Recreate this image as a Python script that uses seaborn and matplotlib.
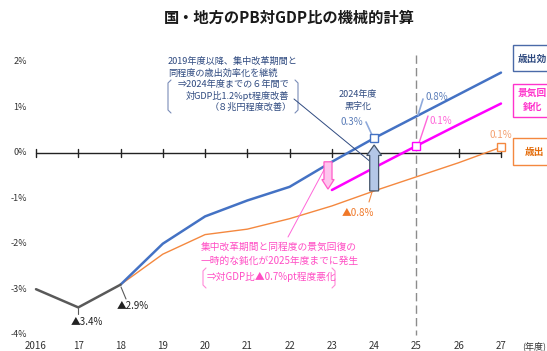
import matplotlib
matplotlib.use("Agg")
import matplotlib.pyplot as plt
import seaborn as sns
import pandas as pd
from matplotlib.patches import FancyArrow, Rectangle

# ---------------- data ----------------
years_actual = [2016, 2017, 2018]
pb_actual = [-3.0, -3.4, -2.9]

years_proj = [2018, 2019, 2020, 2021, 2022, 2023, 2024, 2025, 2026, 2027]
pb_efficiency = [-2.9, -2.0, -1.4, -1.05, -0.75, -0.2, 0.32, 0.8, 1.28, 1.76]
pb_baseline = [-2.9, -2.23, -1.8, -1.68, -1.45, -1.17, -0.84, -0.53, -0.22, 0.12]

years_slow = [2023, 2024, 2025, 2026, 2027]
pb_slowdown = [-0.82, -0.33, 0.15, 0.62, 1.08]

x_ticks = list(range(2016, 2028))
x_tick_labels = ["2016", "17", "18", "19", "20", "21", "22", "23", "24", "25", "26", "27"]
y_ticks = [2, 1, 0, -1, -2, -3, -4]
y_tick_labels = ["2%", "1%", "0%", "-1%", "-2%", "-3%", "-4%"]

title = "国・地方のPB対GDP比の機械的計算"

# ---------------- style ----------------
sns.set_style("white")
plt.rcParams["font.family"] = ["Noto Sans CJK JP", "DejaVu Sans"]

W, H = 547, 351
fig = plt.figure(figsize=(W / 100, H / 100), dpi=100)
ax = fig.add_axes([0, 0, 1, 1])

# pixel mapping helpers (for layout of annotations only)
X0PX, XSTEP = 36.0, 42.27
Y0PX, YSTEP = 152.7, 45.5
def X(px):
    return 2016 + (px - X0PX) / XSTEP
def Y(py):
    return (Y0PX - py) / YSTEP

BLUE = "#4472C4"
ORANGE = "#F4883F"
MAG = "#FF00FF"
GRAY = "#595959"
PINKTXT = "#FF4DC4"
NAVY = "#2F4A80"

# ---------------- lines ----------------
df_act = pd.DataFrame({"year": years_actual, "pb": pb_actual})
df_eff = pd.DataFrame({"year": years_proj, "pb": pb_efficiency})
df_base = pd.DataFrame({"year": years_proj, "pb": pb_baseline})
df_slow = pd.DataFrame({"year": years_slow, "pb": pb_slowdown})

sns.lineplot(data=df_base, x="year", y="pb", ax=ax, color=ORANGE, lw=1.0, zorder=3, legend=False)
sns.lineplot(data=df_eff, x="year", y="pb", ax=ax, color=BLUE, lw=1.8, zorder=4, legend=False)
sns.lineplot(data=df_slow, x="year", y="pb", ax=ax, color=MAG, lw=1.8, zorder=4, legend=False)
sns.lineplot(data=df_act, x="year", y="pb", ax=ax, color=GRAY, lw=1.8, zorder=4, legend=False)
ax.axis("off")
ax.set_xlim(X(0), X(W))
ax.set_ylim(Y(H), Y(0))

# 0% axis with ticks
ax.plot([x_ticks[0], x_ticks[-1]], [0, 0], color="#222222", lw=1.0, zorder=2)
for xt in x_ticks:
    if xt == 2025:
        continue
    ax.plot([xt, xt], [-0.09, 0.09], color="#222222", lw=1.0, zorder=2)

# vertical dashed line at 2025
ax.plot([2025, 2025], [Y(55), -4.0], color="#8C8C8C", lw=1.0,
        dashes=(6, 3), zorder=1)

# tick labels
for xt, lab in zip(x_ticks, x_tick_labels):
    ax.text(xt, Y(346), lab, ha="center", va="center", fontsize=7, color="#333333")
for yt, lab in zip(y_ticks, y_tick_labels):
    ax.text(X(27), yt, lab, ha="right", va="center", fontsize=6.5, color="#333333")
ax.text(X(546), Y(346), "(年度)", ha="right", va="center", fontsize=6.5, color="#333333")

# open square markers
ax.plot([years_proj[6]], [pb_efficiency[6]], marker="s", ms=5.5, mfc="white", mec=BLUE, mew=1.0, zorder=7)
ax.plot([years_slow[2]], [pb_slowdown[2]], marker="s", ms=5.5, mfc="white", mec=MAG, mew=1.0, zorder=7)
ax.plot([years_proj[-1]], [pb_baseline[-1]], marker="s", ms=5.5, mfc="white", mec=ORANGE, mew=1.0, zorder=7)

# ---------------- arrows ----------------
pink_arrow = FancyArrow(X(328), pb_efficiency[5], 0, pb_slowdown[0] - pb_efficiency[5] + 0.02,
                        width=0.19, head_width=0.29, head_length=0.21,
                        length_includes_head=True, fc="#FFC4EE", ec="#FF5CC8", lw=0.9, zorder=6)
ax.add_patch(pink_arrow)
blue_arrow = FancyArrow(years_proj[6], pb_baseline[6], 0, (pb_efficiency[6] - 0.15) - pb_baseline[6],
                        width=0.21, head_width=0.35, head_length=0.23,
                        length_includes_head=True, fc="#B4C7E7", ec="#44546A", lw=0.9, zorder=6)
ax.add_patch(blue_arrow)

# ---------------- annotations ----------------
tr = ax.transAxes
def P(px, py):
    return (px / W, 1 - py / H)

def seg(p1, p2, color, lw):
    a, b = P(*p1), P(*p2)
    ax.plot([a[0], b[0]], [a[1], b[1]], transform=tr, color=color, lw=lw, zorder=5)

# title
ax.text(*P(289, 18), title, transform=tr, ha="center", va="center",
        fontsize=11, fontweight="bold", color="#1a1a1a")

# blue annotation block
FS_B = 6.6
ax.text(*P(168, 61), "2019年度以降、集中改革期間と", transform=tr, ha="left", va="center",
        fontsize=FS_B, color=NAVY)
ax.text(*P(168, 73), "同程度の歳出効率化を継続", transform=tr, ha="left", va="center",
        fontsize=FS_B, color=NAVY)
ax.text(*P(289, 85), "⇒2024年度までの６年間で", transform=tr, ha="right", va="center",
        fontsize=FS_B, color=NAVY)
ax.text(*P(289, 96), "対GDP比1.2%pt程度改善", transform=tr, ha="right", va="center",
        fontsize=FS_B, color=NAVY)
ax.text(*P(292, 107), "（８兆円程度改善）", transform=tr, ha="right", va="center",
        fontsize=FS_B, color=NAVY)

def bracket(xpx, y1, y2, side, color, lw=0.8):
    d = 3 if side == "left" else -3
    xs = [xpx + d, xpx, xpx, xpx + d]
    ys = [y1, y1 + 3, y2 - 3, y2]
    ax.plot([x / W for x in xs], [1 - y / H for y in ys], transform=tr,
            color=color, lw=lw, solid_capstyle="round")

bracket(168, 80, 113, "left", "#7A8DB8")
bracket(298, 80, 113, "right", "#7A8DB8")

# leader line from blue text to arrow
seg((294, 99), (372, 163), NAVY, 0.7)

ax.text(*P(358, 94), "2024年度", transform=tr, ha="center", va="center", fontsize=6.5, color=NAVY)
ax.text(*P(358, 106), "黒字化", transform=tr, ha="center", va="center", fontsize=6.5, color=NAVY)

# value labels
ax.text(*P(352, 122), "0.3%", transform=tr, ha="center", va="center", fontsize=7, color="#5B7DB8")
seg((366, 122), (372, 135), "#8FAADC", 1.2)
ax.text(*P(425, 97), "0.8%", transform=tr, ha="left", va="center", fontsize=7, color="#5B7DB8")
seg((418, 115), (423, 99), "#8FAADC", 1.2)
ax.text(*P(430, 121), "0.1%", transform=tr, ha="left", va="center", fontsize=7, color="#FF66D9")
seg((419, 143), (428, 116), "#FF66D9", 1.0)
ax.text(*P(501, 135), "0.1%", transform=tr, ha="center", va="center", fontsize=7, color="#F4A070")
ax.text(*P(358, 213), "▲0.8%", transform=tr, ha="center", va="center", fontsize=7, color="#F07828")
seg((372, 192), (369, 202), ORANGE, 0.8)

ax.text(*P(87, 322), "▲3.4%", transform=tr, ha="center", va="center", fontsize=7, color="#222222")
seg((78, 308), (78, 314), GRAY, 0.8)
ax.text(*P(133, 306), "▲2.9%", transform=tr, ha="center", va="center", fontsize=7, color="#222222")
seg((121, 287), (126, 299), GRAY, 0.8)

# pink annotation block
ax.text(*P(201, 247), "集中改革期間と同程度の景気回復の", transform=tr, ha="left", va="center",
        fontsize=7, color=PINKTXT)
ax.text(*P(201, 261), "一時的な鈍化が2025年度までに発生", transform=tr, ha="left", va="center",
        fontsize=7, color=PINKTXT)
ax.text(*P(207, 277), "⇒対GDP比▲0.7%pt程度悪化", transform=tr, ha="left", va="center",
        fontsize=7, color=PINKTXT)
bracket(203, 268, 288, "left", "#FF8AD8")
bracket(335, 268, 288, "right", "#FF8AD8")
seg((288, 237), (325, 168), "#FF66D9", 0.7)

# right-side case boxes (cut at the figure edge, as in the source)
def box(x1, y1, x2, y2, ec):
    ax.add_patch(Rectangle(P(x1, y2), (x2 - x1) / W, (y2 - y1) / H, transform=tr,
                           fc="white", ec=ec, lw=1.0, clip_on=False, zorder=8))

box(513, 45, 600, 71, "#4A6AA8")
ax.text(*P(518, 59), "歳出効", transform=tr, ha="left", va="center",
        fontsize=7, fontweight="bold", color="#2F4A80", zorder=9)
box(513, 84, 600, 117, "#FF33CC")
ax.text(*P(518, 93), "景気回", transform=tr, ha="left", va="center",
        fontsize=7, fontweight="bold", color="#FF33CC", zorder=9)
ax.text(*P(523, 107), "鈍化", transform=tr, ha="left", va="center",
        fontsize=7, fontweight="bold", color="#FF33CC", zorder=9)
box(513, 138, 600, 165, "#F4883F")
ax.text(*P(525, 152), "歳出", transform=tr, ha="left", va="center",
        fontsize=7, fontweight="bold", color="#E46C0A", zorder=9)

fig.savefig("out.png", dpi=100)
